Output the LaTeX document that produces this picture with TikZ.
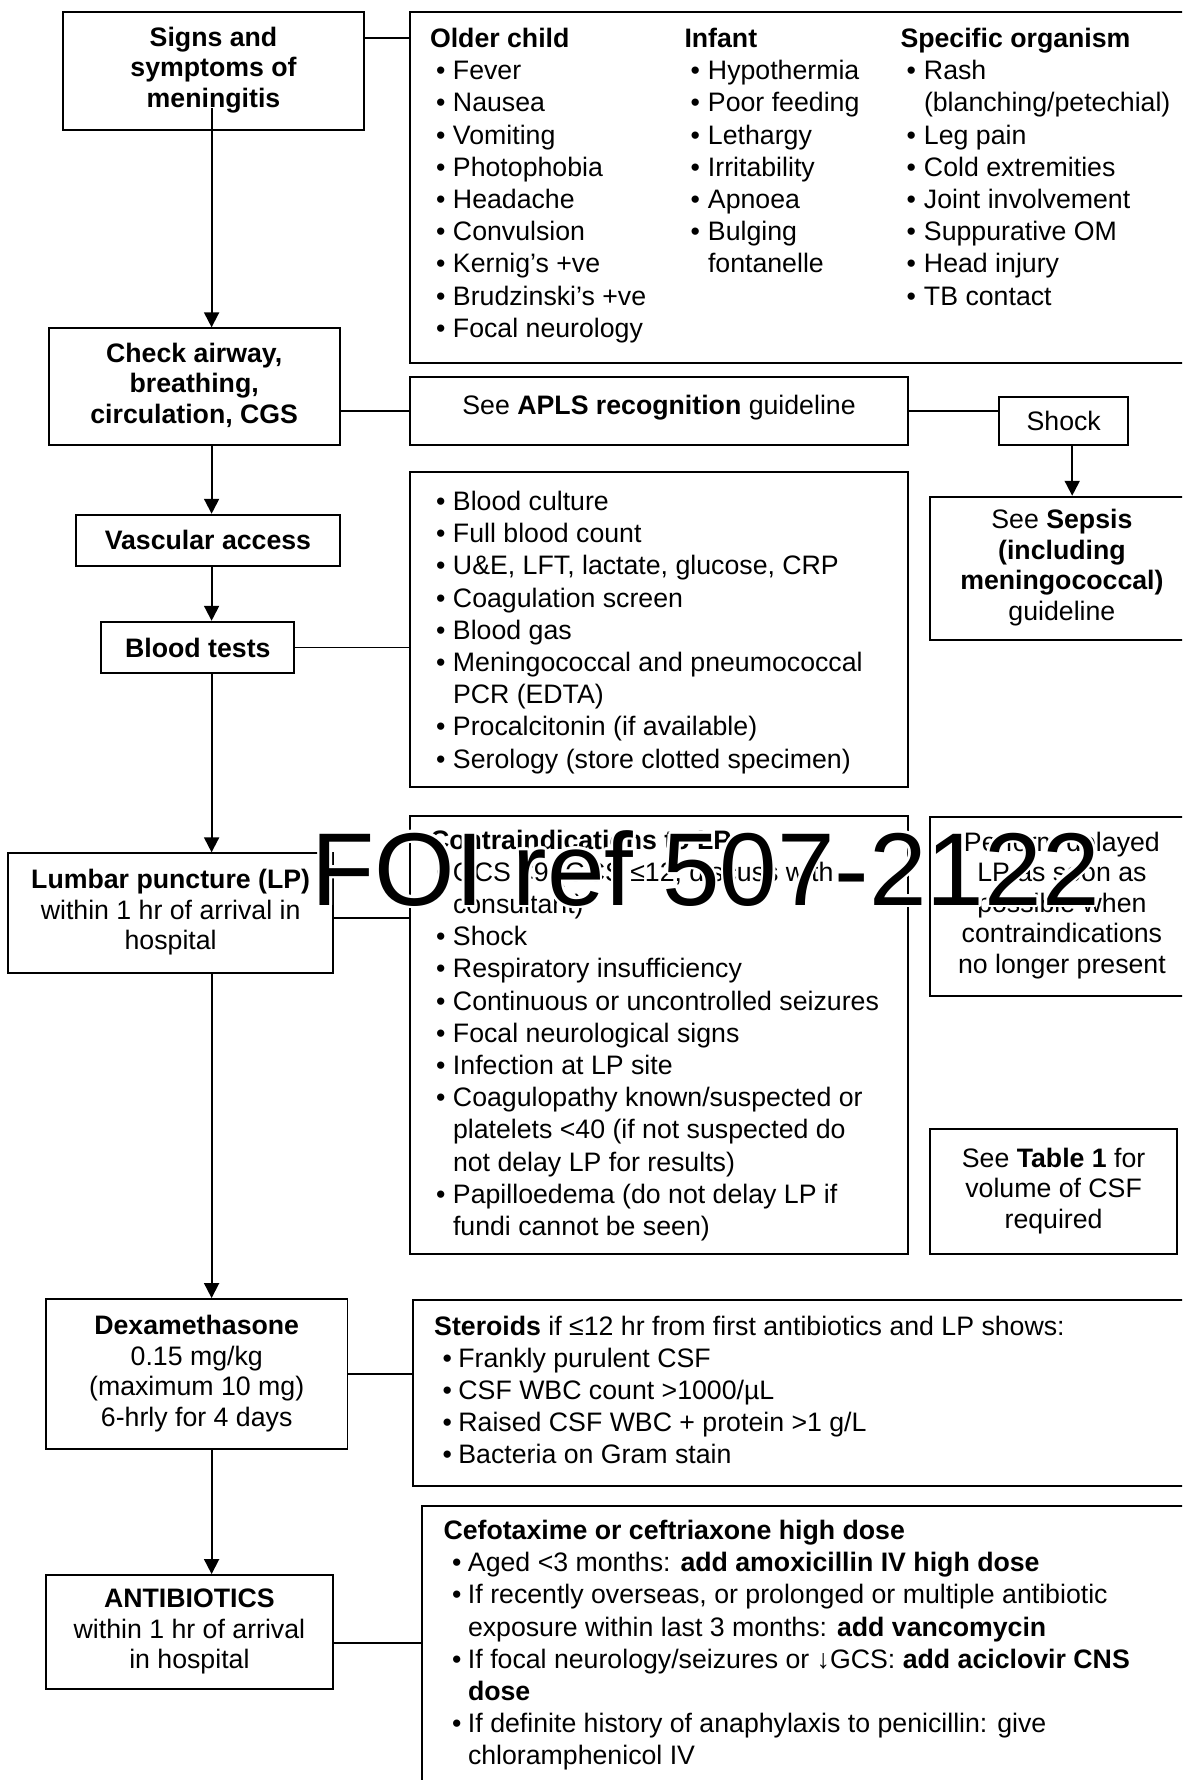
\documentclass[tikz,border=0pt]{standalone}
\usepackage{fontspec}
\setmainfont{Liberation Sans}
\usetikzlibrary{arrows.meta}

% bullet list helpers
\newlength\bulo \newlength\bulw
\newcommand\bul{\makebox[\bulw][l]{\hspace{\bulo}\textbullet}}
\newcommand\cont{\hspace*{\bulw}}
\newcommand\listtext[1]{\begin{tabular}[t]{@{}l@{}}#1\end{tabular}}
\newcommand\boxtext[1]{\begin{tabular}{@{}c@{}}#1\end{tabular}}

\tikzset{
  box/.style={draw, line width=0.75pt, inner sep=0pt, anchor=center,
    font=\fontsize{10.68}{12.2}\selectfont},
  boldbox/.style={box, font=\bfseries\fontsize{10.68}{12.2}\selectfont},
  % frame from its top-left corner (#1,#2) to its bottom-right corner (#3,#4)
  rect/.style n args={4}{
    minimum width={((#3)-(#1))*0.4pt},
    minimum height={((#4)-(#2))*0.4pt},
    at={({((#1)+(#3))/2},{((#2)+(#4))/2})}},
  lst/.style 2 args={anchor=base west, inner sep=0pt,
    font=\fontsize{10.68}{12.88}\selectfont\setlength\bulo{#1}\setlength\bulw{#2}},
  link/.style={line width=0.75pt},
  arr/.style={line width=0.75pt, -{Triangle[length=6pt,width=6pt]}},
  wmark/.style={anchor=base west, inner sep=0pt,
    font=\fontsize{41.4}{41.4}\selectfont}
}

\begin{document}
\begin{tikzpicture}[x=0.4pt,y=-0.4pt]
\useasboundingbox (0,0) rectangle (1182,1780);
\clip (0,0) rectangle (1182,1780);

% ---- main column ----
\node[boldbox, rect={63.1}{11.7}{363.9}{130}] (signs)
  {\boxtext{Signs and\\ symptoms of\\ meningitis}};
\node[boldbox, rect={48.6}{328.3}{339.8}{445.3}] (check)
  {\boxtext{Check airway,\\ breathing,\\ circulation, CGS}};
\node[boldbox, rect={76.1}{514.7}{339.8}{566}] (vasc) {Vascular access};
\node[boldbox, rect={101.4}{621.7}{294.3}{673.3}] (btests) {Blood tests};
\node[box, rect={8.4}{853.3}{332.9}{973.3}] (lp)
  {\boxtext{\textbf{Lumbar puncture (LP)}\\ within 1 hr of arrival in\\ hospital}};
\node[box, rect={45.9}{1299}{347.5}{1449.3}] (dex)
  {\boxtext{\textbf{Dexamethasone}\\ 0.15 mg/kg\\ (maximum 10 mg)\\ 6-hrly for 4 days}};
\node[box, rect={45.9}{1575}{332.9}{1689.3}] (anti)
  {\raisebox{-3.6pt}{\boxtext{\textbf{ANTIBIOTICS}\\ within 1 hr of arrival\\ in hospital}}};

% ---- side boxes ----
\node[box, rect={409.8}{11.7}{1194}{363.3}] (sympt) {};
\node[box, rect={409.8}{377.3}{908.3}{445.3}] (apls)
  {\raisebox{5pt}{See \textbf{APLS recognition} guideline}};
\node[box, rect={999.2}{396.7}{1128.2}{445.3}] (shock) {\raisebox{-1.5pt}{Shock}};
\node[box, rect={929.8}{496.7}{1194}{640}] (sepsis)
  {\raisebox{-3.6pt}{\boxtext{See \textbf{Sepsis}\\ \textbf{(including}\\ \textbf{meningococcal)}\\ guideline}}};
\node[box, rect={409.8}{472.3}{908.3}{786.7}] (blist) {};
\node[box, rect={409.8}{816.3}{908.3}{1254}] (contra) {};
\node[box, rect={929.8}{816.7}{1194}{996}] (perform)
  {\boxtext{Perform delayed\\ LP as soon as\\ possible when\\ contraindications\\ no longer present}};
\node[box, rect={929.8}{1129.3}{1177.4}{1254}] (table)
  {\raisebox{7pt}{\boxtext{See \textbf{Table 1} for\\ volume of CSF\\ required}}};
\node[box, rect={413.3}{1300}{1194}{1485.7}] (steroids) {};
\node[box, rect={421.7}{1505.7}{1194}{1800}] (cefo) {};

% ---- list contents ----
\node[lst={2.4pt}{9.2pt}] (older) at (429.5,47.5) {\listtext{%
  \textbf{Older child}\\ \bul Fever\\ \bul Nausea\\ \bul Vomiting\\
  \bul Photophobia\\ \bul Headache\\ \bul Convulsion\\ \bul Kernig’s +ve\\
  \bul Brudzinski’s +ve\\ \bul Focal neurology}};
\node[lst={2.4pt}{9.4pt}] (infant) at (684,47.5) {\listtext{%
  \textbf{Infant}\\ \bul Hypothermia\\ \bul Poor feeding\\ \bul Lethargy\\
  \bul Irritability\\ \bul Apnoea\\ \bul Bulging\\ \cont fontanelle}};
\node[lst={2.4pt}{9.4pt}] (organism) at (900,47.5) {\listtext{%
  \textbf{Specific organism}\\ \bul Rash\\ \cont (blanching/petechial)\\
  \bul Leg pain\\ \bul Cold extremities\\ \bul Joint involvement\\
  \bul Suppurative OM\\ \bul Head injury\\ \bul TB contact}};
\node[lst={2.4pt}{9.2pt}] (bloodlist) at (429.5,510.5) {\listtext{%
  \bul Blood culture\\ \bul Full blood count\\
  \bul U\&E, LFT, lactate, glucose, CRP\\ \bul Coagulation screen\\
  \bul Blood gas\\ \bul Meningococcal and pneumococcal\\ \cont PCR (EDTA)\\
  \bul Procalcitonin (if available)\\ \bul Serology (store clotted specimen)}};
\node[lst={2.4pt}{9.2pt}] (contralist) at (429.5,849) {\listtext{%
  \textbf{Contraindications to LP}\\
  \bul GCS <9 (GCS ≤12, discuss with\\ \cont consultant)\\
  \bul Shock\\ \bul Respiratory insufficiency\\
  \bul Continuous or uncontrolled seizures\\ \bul Focal neurological signs\\
  \bul Infection at LP site\\ \bul Coagulopathy known/suspected or\\
  \cont platelets <40 (if not suspected do\\ \cont not delay LP for results)\\
  \bul Papilloedema (do not delay LP if\\ \cont fundi cannot be seen)}};
\node[lst={3.4pt}{9.7pt}] (steroidlist) at (433.7,1335) {\listtext{%
  \textbf{Steroids} if ≤12 hr from first antibiotics and LP shows:\\
  \bul Frankly purulent CSF\\ \bul CSF WBC count >1000/µL\\
  \bul Raised CSF WBC + protein >1 g/L\\ \bul Bacteria on Gram stain}};
\node[lst={3.4pt}{9.8pt}] (abxlist) at (443,1539.5) {\listtext{%
  \textbf{Cefotaxime or ceftriaxone high dose}\\
  \bul Aged <3 months: \textbf{add amoxicillin IV high dose}\\
  \bul If recently overseas, or prolonged or multiple antibiotic\\
  \cont exposure within last 3 months: \textbf{add vancomycin}\\
  \bul If focal neurology/seizures or ↓GCS: \textbf{add aciclovir CNS}\\
  \cont \textbf{dose}\\
  \bul If definite history of anaphylaxis to penicillin: give\\
  \cont chloramphenicol IV}};

% ---- arrows down the main column ----
\coordinate (axis) at (211.6,0);
\coordinate (sgstart) at (211.6,108);
\coordinate (shx) at (1072.2,0);
\draw[arr] (sgstart) -- (check.north -| axis);
\draw[arr] (check.south -| axis) -- (vasc.north -| axis);
\draw[arr] (vasc.south -| axis) -- (btests.north -| axis);
\draw[arr] (btests.south -| axis) -- (lp.north -| axis);
\draw[arr] (lp.south -| axis) -- (dex.north -| axis);
\draw[arr] (dex.south -| axis) -- (anti.north -| axis);
\draw[arr] (shock.south -| shx) -- (sepsis.north -| shx);

% ---- side links ----
\coordinate (ysig) at (0,38.3);
\coordinate (ylp) at (0,918.3);
\coordinate (yabx) at (0,1642.7);
\draw[link] (signs.east |- ysig) -- (sympt.west |- ysig);
\draw[link] (check.east |- apls.west) -- (apls.west);
\draw[link] (apls.east) -- (shock.west |- apls.east);
\draw[link] (btests.east) -- (blist.west |- btests.east);
\draw[link] (lp.east |- ylp) -- (contra.west |- ylp);
\draw[link] (dex.east) -- (steroids.west |- dex.east);
\draw[link] (anti.east |- yabx) -- (cefo.west |- yabx);

% ---- reference stamp with white halo ----
\foreach \a in {0,30,...,330}
  \node[wmark, text=white, shift={(\a:2.5)}] (halo\a) at (311,905) {FOI ref 507-2122};
\node[wmark] (stamp) at (311,905) {FOI ref 507-2122};
\end{tikzpicture}
\end{document}
